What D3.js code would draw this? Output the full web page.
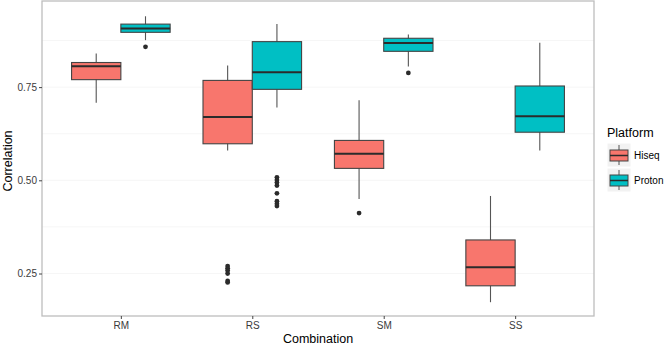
<!DOCTYPE html>
<html>
<head>
<meta charset="utf-8">
<script src="https://d3js.org/d3.v7.min.js"></script>
<style>
  body { margin: 0; background: #fff; }
  text { font-family: "Liberation Sans", Arial, sans-serif; }
</style>
</head>
<body>
<div id="chart"></div>
<script>
// boxplot summary stats
const combos = ['RM', 'RS', 'SM', 'SS'];
const platforms = ['Hiseq', 'Proton'];
const colors = ['#F8766D', '#00BFC4'];
const yTicks = [0.25, 0.50, 0.75];

const hiseqLow = [0.708, 0.580, 0.450, 0.173];
const hiseqQ1 = [0.770, 0.598, 0.532, 0.217];
const hiseqMed = [0.806, 0.670, 0.571, 0.267];
const hiseqQ3 = [0.816, 0.768, 0.607, 0.340];
const hiseqHigh = [0.840, 0.808, 0.715, 0.458];
const hiseqOut = [[], [0.270, 0.264, 0.258, 0.250, 0.230, 0.226], [0.412], []];

const protonLow = [0.876, 0.695, 0.805, 0.580];
const protonQ1 = [0.897, 0.744, 0.846, 0.629];
const protonMed = [0.907, 0.790, 0.868, 0.672];
const protonQ3 = [0.919, 0.872, 0.881, 0.753];
const protonHigh = [0.940, 0.919, 0.891, 0.869];
const protonOut = [[0.858], [0.508, 0.501, 0.494, 0.486, 0.465, 0.444, 0.437, 0.431], [0.788], []];

const width = 666, height = 347;
const margin = { top: 1, right: 72, bottom: 31, left: 42 };

const boxes = [];
combos.forEach((c, i) => {
  boxes.push({ combo: c, platform: 'Hiseq', low: hiseqLow[i], q1: hiseqQ1[i], med: hiseqMed[i], q3: hiseqQ3[i], high: hiseqHigh[i], out: hiseqOut[i] });
  boxes.push({ combo: c, platform: 'Proton', low: protonLow[i], q1: protonQ1[i], med: protonMed[i], q3: protonQ3[i], high: protonHigh[i], out: protonOut[i] });
});

const svg = d3.select('#chart').append('svg')
  .attr('width', width)
  .attr('height', height);

// discrete x: categories half a step in from the panel edges
const plotW = width - margin.right - margin.left;
const step = plotW / 4.2;
const xPos = d3.scalePoint()
  .domain(combos)
  .range([margin.left + step * 0.6, width - margin.right - step * 0.6]);

const sub = d3.scaleBand()
  .domain(platforms)
  .range([-step * 0.375, step * 0.375]);

const y = d3.scaleLinear()
  .domain([0.136, 0.981])
  .range([height - margin.bottom, margin.top]);

const color = d3.scaleOrdinal().domain(platforms).range(colors);

// faint grid
svg.append('g').selectAll('line')
  .data(d3.range(0.25, 0.95, 0.125))
  .enter().append('line')
  .attr('x1', margin.left).attr('x2', width - margin.right)
  .attr('y1', d => y(d)).attr('y2', d => y(d))
  .attr('stroke', '#f6f6f6')
  .attr('stroke-width', 1);

// boxes
const bw = sub.bandwidth();
const item = svg.append('g').selectAll('.box')
  .data(boxes)
  .enter().append('g')
  .attr('class', 'box')
  .attr('transform', d => `translate(${xPos(d.combo) + sub(d.platform)},0)`);

item.append('line')
  .attr('x1', bw / 2).attr('x2', bw / 2)
  .attr('y1', d => y(d.high)).attr('y2', d => y(d.low))
  .attr('stroke', '#555').attr('stroke-width', 1.1);

item.append('rect')
  .attr('x', 0).attr('width', bw)
  .attr('y', d => y(d.q3))
  .attr('height', d => y(d.q1) - y(d.q3))
  .attr('fill', d => color(d.platform))
  .attr('stroke', '#444').attr('stroke-width', 1.1);

item.append('line')
  .attr('x1', 0).attr('x2', bw)
  .attr('y1', d => y(d.med)).attr('y2', d => y(d.med))
  .attr('stroke', '#2b2b2b').attr('stroke-width', 2);

item.selectAll('circle')
  .data(d => d.out)
  .enter().append('circle')
  .attr('cx', bw / 2)
  .attr('cy', d => y(d))
  .attr('r', 2.4)
  .attr('fill', '#2b2b2b');

// panel border
svg.append('rect')
  .attr('x', margin.left).attr('y', margin.top)
  .attr('width', plotW)
  .attr('height', height - margin.bottom - margin.top)
  .attr('fill', 'none')
  .attr('stroke', '#bdbdbd').attr('stroke-width', 1.3);

// axes
const yAxis = svg.append('g')
  .attr('transform', `translate(${margin.left},0)`)
  .call(d3.axisLeft(y).tickValues(yTicks).tickFormat(d3.format('.2f')).tickSize(3).tickPadding(2));
const xAxis = svg.append('g')
  .attr('transform', `translate(0,${height - margin.bottom})`)
  .call(d3.axisBottom(xPos).tickSize(3).tickPadding(3));
[yAxis, xAxis].forEach(a => {
  a.select('.domain').remove();
  a.selectAll('line').attr('stroke', '#444');
  a.selectAll('text').attr('fill', '#3a3a3a').style('font-size', '10px');
});

// axis titles
svg.append('text')
  .attr('x', 318).attr('y', 343)
  .attr('text-anchor', 'middle')
  .style('font-size', '12.5px')
  .text('Combination');
svg.append('text')
  .attr('transform', 'translate(12,161) rotate(-90)')
  .attr('text-anchor', 'middle')
  .style('font-size', '12.5px')
  .text('Correlation');

// legend
const legend = svg.append('g').attr('transform', 'translate(607,0)');
legend.append('text')
  .attr('x', 0).attr('y', 137)
  .style('font-size', '12.5px')
  .text('Platform');
const key = legend.selectAll('.key')
  .data(platforms)
  .enter().append('g')
  .attr('class', 'key')
  .attr('transform', (d, i) => `translate(0,${143 + i * 25})`);
key.append('rect')
  .attr('width', 24).attr('height', 24)
  .attr('fill', '#f2f2f2')
  .attr('stroke', '#fff');
key.append('line')
  .attr('x1', 12).attr('x2', 12).attr('y1', 2).attr('y2', 22)
  .attr('stroke', '#555').attr('stroke-width', 1);
key.append('rect')
  .attr('x', 3).attr('y', 7).attr('width', 18).attr('height', 11)
  .attr('fill', d => color(d))
  .attr('stroke', '#444').attr('stroke-width', 1);
key.append('line')
  .attr('x1', 3).attr('x2', 21).attr('y1', 12.5).attr('y2', 12.5)
  .attr('stroke', '#2b2b2b').attr('stroke-width', 1.5);
key.append('text')
  .attr('x', 27).attr('y', 16)
  .style('font-size', '10px')
  .text(d => d);
</script>
</body>
</html>
